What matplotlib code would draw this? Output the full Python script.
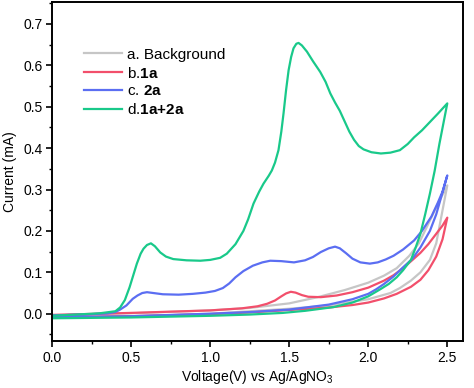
import matplotlib
matplotlib.use("Agg")
import matplotlib.pyplot as plt
from matplotlib.ticker import MultipleLocator

plt.rcParams["font.family"] = ["Liberation Sans", "DejaVu Sans"]
plt.rcParams["mathtext.fontset"] = "custom"
plt.rcParams["mathtext.rm"] = "Liberation Sans"
plt.rcParams["mathtext.bf"] = "Liberation Sans:bold"

# a. background: forward then reverse scan
bg_fwd_v = [0, 0.5, 1.0, 1.25, 1.5, 1.68, 1.85, 2.0, 2.1, 2.18, 2.26, 2.32, 2.39, 2.44, 2.5]
bg_fwd_i = [-0.003, 0.001, 0.008, 0.014, 0.025, 0.04, 0.057, 0.075, 0.092, 0.11, 0.14, 0.17,
            0.225, 0.265, 0.31]
bg_rev_v = [2.5, 2.47, 2.43, 2.39, 2.33, 2.27, 2.2, 2.14, 2.0, 1.75, 1.5, 1.25, 1.0, 0.5, 0]
bg_rev_i = [0.31, 0.25, 0.17, 0.13, 0.1, 0.08, 0.062, 0.05, 0.035, 0.02, 0.012, 0.006, 0.0,
            -0.006, -0.008]

# b. 1a
b_fwd_v = [0, 0.5, 1.0, 1.2, 1.3, 1.36, 1.41, 1.45, 1.48, 1.51, 1.54, 1.58, 1.62, 1.7, 1.8, 1.9,
           2.0, 2.1, 2.16, 2.22, 2.28, 2.33, 2.38, 2.43, 2.47, 2.5]
b_fwd_i = [-0.003, 0.002, 0.008, 0.013, 0.018, 0.024, 0.032, 0.042, 0.049, 0.053, 0.051, 0.045,
           0.041, 0.04, 0.044, 0.052, 0.063, 0.08, 0.093, 0.11, 0.13, 0.147, 0.168, 0.193, 0.213, 0.232]
b_rev_v = [2.5, 2.47, 2.43, 2.38, 2.33, 2.27, 2.18, 2.1, 2.0, 1.9, 1.75, 1.5, 1.25, 1.0, 0.5, 0]
b_rev_i = [0.232, 0.18, 0.138, 0.105, 0.082, 0.065, 0.048, 0.037, 0.027, 0.021, 0.015, 0.009,
           0.003, -0.001, -0.006, -0.008]

# c. 2a
c_fwd_v = [0, 0.2, 0.35, 0.4, 0.43, 0.47, 0.51, 0.54, 0.57, 0.6, 0.64, 0.7, 0.8, 0.89, 0.97, 1.03,
           1.08, 1.12, 1.16, 1.21, 1.27, 1.33, 1.38, 1.45, 1.53, 1.6, 1.65, 1.7, 1.75, 1.79, 1.82,
           1.86, 1.9, 1.95, 2.01, 2.06, 2.11, 2.16, 2.22, 2.29, 2.34, 2.4, 2.44, 2.47, 2.5]
c_fwd_i = [-0.004, -0.002, 0.001, 0.004, 0.01, 0.02, 0.036, 0.044, 0.05, 0.052, 0.05, 0.047,
           0.046, 0.048, 0.051, 0.055, 0.062, 0.073, 0.088, 0.103, 0.116, 0.124, 0.128, 0.127,
           0.124, 0.129, 0.137, 0.149, 0.158, 0.162, 0.158, 0.146, 0.133, 0.124, 0.121, 0.124,
           0.131, 0.14, 0.155, 0.177, 0.2, 0.235, 0.268, 0.295, 0.334]
c_rev_v = [2.5, 2.46, 2.43, 2.39, 2.33, 2.28, 2.22, 2.16, 2.1, 2.05, 2.0, 1.9, 1.75, 1.5, 1.25,
           1.0, 0.5, 0]
c_rev_i = [0.334, 0.28, 0.24, 0.2, 0.16, 0.133, 0.112, 0.09, 0.072, 0.059, 0.048, 0.035, 0.022,
           0.01, 0.004, 0.0, -0.006, -0.009]

# d. 1a+2a
d_fwd_v = [0, 0.3, 0.4, 0.43, 0.46, 0.49, 0.515, 0.536, 0.56, 0.578, 0.6, 0.625, 0.65, 0.684,
           0.72, 0.766, 0.85, 0.937, 1.0, 1.063, 1.105, 1.16, 1.21, 1.24, 1.274, 1.31, 1.337,
           1.37, 1.39, 1.41, 1.432, 1.45, 1.464, 1.48, 1.496, 1.512, 1.527, 1.545, 1.559, 1.58,
           1.612, 1.65, 1.696, 1.73, 1.76, 1.79, 1.82, 1.85, 1.88, 1.91, 1.94, 1.97, 2.02, 2.08,
           2.14, 2.2, 2.25, 2.29, 2.34, 2.39, 2.44, 2.5]
d_fwd_i = [-0.005, 0.001, 0.006, 0.015, 0.033, 0.064, 0.095, 0.121, 0.145, 0.157, 0.166, 0.170,
           0.163, 0.148, 0.138, 0.132, 0.129, 0.128, 0.13, 0.135, 0.145, 0.168, 0.20, 0.228,
           0.266, 0.295, 0.314, 0.333, 0.346, 0.365, 0.395, 0.44, 0.484, 0.54, 0.588, 0.62,
           0.641, 0.652, 0.654, 0.648, 0.633, 0.61, 0.584, 0.56, 0.532, 0.51, 0.49, 0.465, 0.44,
           0.42, 0.405, 0.397, 0.39, 0.387, 0.389, 0.395, 0.41, 0.426, 0.443, 0.463, 0.483, 0.508]
d_rev_v = [2.5, 2.45, 2.42, 2.39, 2.36, 2.33, 2.3, 2.27, 2.22, 2.18, 2.13, 2.08, 2.0, 1.9, 1.78,
           1.6, 1.46, 1.25, 1.0, 0.5, 0]
d_rev_i = [0.508, 0.41, 0.345, 0.29, 0.24, 0.193, 0.16, 0.13, 0.105, 0.088, 0.072, 0.06, 0.042,
           0.027, 0.016, 0.007, 0.002, -0.002, -0.005, -0.009, -0.011]

labels = ["a. Background", r"b.$\mathbf{1a}$", r"c. $\mathbf{2a}$", r"d.$\mathbf{1a{+}2a}$"]
colors = ["#c6c6c6", "#f24f6b", "#5b6ef2", "#19c98a"]

series = [
    (bg_fwd_v + bg_rev_v, bg_fwd_i + bg_rev_i),
    (b_fwd_v + b_rev_v, b_fwd_i + b_rev_i),
    (c_fwd_v + c_rev_v, c_fwd_i + c_rev_i),
    (d_fwd_v + d_rev_v, d_fwd_i + d_rev_i),
]

fig = plt.figure(figsize=(4.74, 3.88), dpi=100)
ax = fig.add_axes([0.110, 0.121, 0.867, 0.874])

for (v, i), lab, col in zip(series, labels, colors):
    ax.plot(v, i, color=col, lw=1.6, label=lab, solid_joinstyle="round")

ax.set_xlim(0, 2.6)
ax.set_ylim(-0.066, 0.753)
ax.xaxis.set_major_locator(MultipleLocator(0.5))
ax.xaxis.set_minor_locator(MultipleLocator(0.25))
ax.yaxis.set_major_locator(MultipleLocator(0.1))
ax.yaxis.set_minor_locator(MultipleLocator(0.05))
ax.tick_params(which="major", direction="out", length=4, width=1.2, labelsize=10, pad=3)
ax.tick_params(which="minor", direction="out", length=2.5, width=1.0)
for sp in ax.spines.values():
    sp.set_linewidth(1.4)

ax.set_xlabel(r"Voltage(V) vs Ag/AgNO$_3$", fontsize=10, labelpad=2)
ax.set_ylabel("Current (mA)", fontsize=10, labelpad=4)

ax.legend(loc="upper left", bbox_to_anchor=(0.062, 0.883), frameon=False, fontsize=11,
          handlelength=2.5, handletextpad=0.35, labelspacing=0.25, borderaxespad=0)

fig.savefig("out.png", dpi=100)
